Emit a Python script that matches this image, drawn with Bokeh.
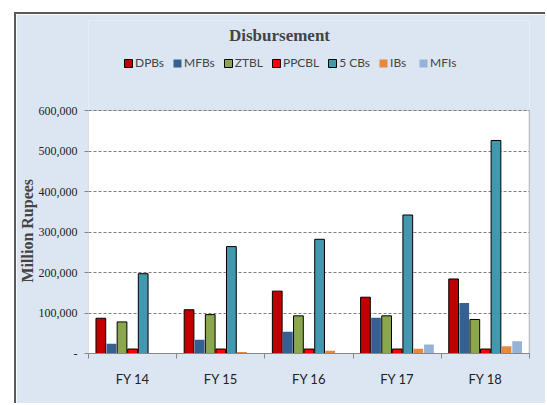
from bokeh.plotting import figure
from bokeh.models import (Range1d, FixedTicker, Legend, LegendItem, Title, Label,
                          BoxAnnotation, NumeralTickFormatter, ColumnDataSource)
from bokeh.transform import dodge
from bokeh.embed import file_html
from bokeh.resources import INLINE

# ---- data ----
years = ["FY 14", "FY 15", "FY 16", "FY 17", "FY 18"]
series_names = ["DPBs", "MFBs", "ZTBL", "PPCBL", "5 CBs", "IBs", "MFIs"]
dpbs = [87000, 108000, 154000, 139000, 184000]
mfbs = [24000, 34000, 54000, 88000, 125000]
ztbl = [78000, 96000, 93000, 93000, 84000]
ppcbl = [11000, 11000, 11000, 11000, 11000]
cbs5 = [197000, 264000, 282000, 342000, 526000]
ibs = [0, 4000, 7000, 12000, 18000]
mfis = [0, 0, 0, 22000, 30000]
y_ticks = [0, 100000, 200000, 300000, 400000, 500000, 600000]
y_max = 600000

colors = ["#C00000", "#376092", "#8BA74E", "#FF0000", "#4198AF", "#E38A3E", "#95B3D7"]
outlined = [True, False, True, True, True, False, False]
values = [dpbs, mfbs, ztbl, ppcbl, cbs5, ibs, mfis]

x_centers = [i + 0.5 for i in range(len(years))]
data = {"x": x_centers}
keys = []
for k, v in enumerate(values):
    key = "s%d" % k
    keys.append(key)
    data[key] = v
src = ColumnDataSource(data)

BG = "#DCE6F2"
# frame extends above the plot area so that the title and legend fit inside it
p = figure(width=531, height=391, output_backend="svg", toolbar_location=None,
           x_range=Range1d(0, len(years)), y_range=Range1d(0, y_max * 333 / 243),
           min_border_left=69, min_border_right=18, min_border_top=6,
           min_border_bottom=52)
p.border_fill_color = BG
p.background_fill_color = BG
p.outline_line_color = None
p.styles = {"margin-left": "14px", "margin-top": "12px",
            "border-top": "2px solid #5a5a5a", "border-left": "2px solid #5a5a5a"}

# white plotting area
p.add_layout(BoxAnnotation(left=0, right=len(years), bottom=0, top=y_max,
                           fill_color="white", fill_alpha=1,
                           line_color="#868686", line_width=1, level="image"))
# dark right border
p.add_layout(BoxAnnotation(left=len(years), right=len(years), bottom=0, top=y_max,
                           fill_alpha=0, line_color="black", line_width=1.5,
                           level="overlay"))

bw = 0.12
offsets = [(-3 + k) * bw for k in range(7)]
items = []
for k, key in enumerate(keys):
    r = p.vbar(x=dodge("x", offsets[k], range=p.x_range), top=key, width=bw * 0.92,
               source=src, fill_color=colors[k],
               line_color="black" if outlined[k] else None, line_width=1)
    items.append(LegendItem(label=series_names[k], renderers=[r]))

legend = Legend(items=items, orientation="horizontal", location=(35, 283),
                padding=0, margin=0, spacing=8, label_standoff=2,
                glyph_width=10, glyph_height=10,
                label_text_font="Lato", label_text_font_size="12px",
                background_fill_alpha=0, border_line_color=None,
                label_height=14)
p.add_layout(legend, "center")

p.add_layout(Label(x=191, y=318, x_units="screen", y_units="screen", text="Disbursement",
                   text_font="Liberation Serif", text_font_style="bold",
                   text_font_size="17px", text_align="center", text_baseline="middle"))

# y axis label as a side title, positioned along the plotting area
p.add_layout(Title(text="Million Rupees", align="left", offset=71,
                   text_font="Liberation Serif", text_font_style="bold",
                   text_font_size="16px", standoff=0), "left")

# y axis
p.yaxis.ticker = FixedTicker(ticks=y_ticks)
p.yaxis.formatter = NumeralTickFormatter(format="0,0")
p.yaxis.major_label_overrides = {0: "-"}
p.yaxis.major_label_text_font = "Liberation Serif"
p.yaxis.major_label_text_font_size = "12px"
p.yaxis.major_label_text_color = "#222222"
p.yaxis.major_label_standoff = 7
p.yaxis.axis_line_color = None
p.yaxis.major_tick_line_color = "#868686"
p.yaxis.major_tick_out = 4
p.yaxis.major_tick_in = 0
p.yaxis.minor_tick_line_color = None

# x axis
p.xaxis.ticker = FixedTicker(ticks=x_centers, minor_ticks=list(range(len(years) + 1)))
p.xaxis.major_label_overrides = {x: yr for x, yr in zip(x_centers, years)}
p.xaxis.major_label_text_font = "Lato"
p.xaxis.major_label_text_font_size = "13px"
p.xaxis.major_label_text_color = "#222222"
p.xaxis.major_label_standoff = 11
p.xaxis.major_tick_line_color = None
p.xaxis.minor_tick_line_color = "#868686"
p.xaxis.minor_tick_out = 5
p.xaxis.minor_tick_in = 0
p.xaxis.axis_line_color = "#868686"

p.xgrid.grid_line_color = None
p.ygrid.grid_line_color = "#7f7f7f"
p.ygrid.grid_line_dash = "3 2"
p.ygrid.grid_line_width = 1

open("out.html", "w").write(file_html(p, INLINE))
